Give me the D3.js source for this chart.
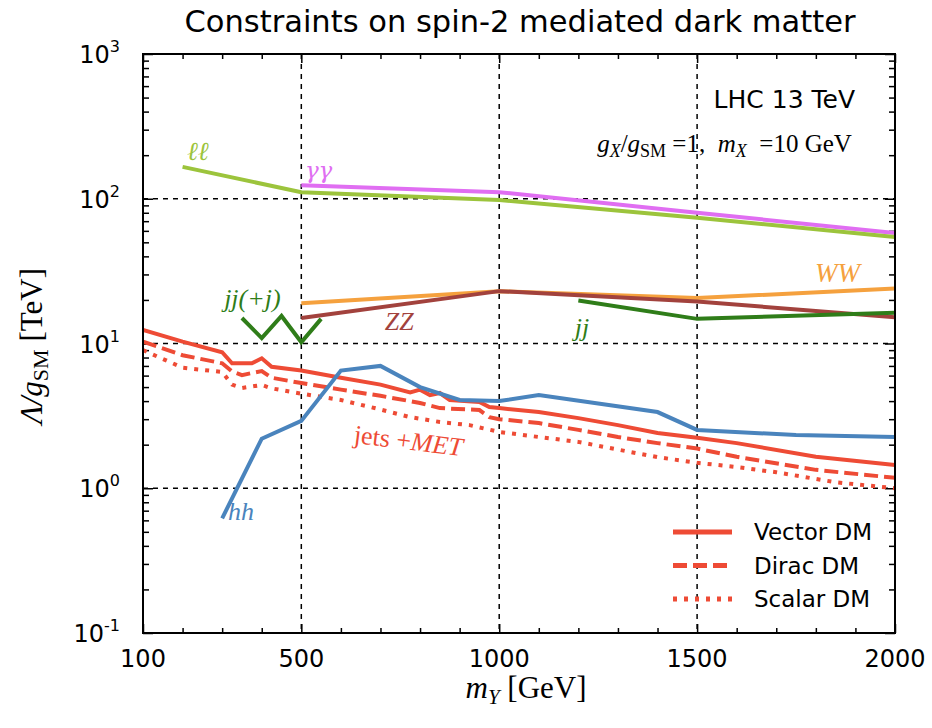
<!DOCTYPE html>
<meta charset="utf-8">
<style>
body { margin: 0; background: #fff; }
svg text { font-family: "DejaVu Sans", sans-serif; fill: #000; }
.tex { font-family: "Liberation Serif", "DejaVu Serif", serif; white-space: pre; }
.grid line { stroke: #000; stroke-width: 1.5; stroke-dasharray: 5,5; }
</style>
<body>
<script src="https://cdn.jsdelivr.net/npm/d3@7"></script>
<script>

// ---- data (mass in GeV, limit in TeV) ----
var massLL = [200, 500, 1000, 1500, 2000];
var limitLL = [166, 111, 98, 74, 54.5];

var massAA = [500, 1000, 1500, 2000];
var limitAA = [124, 111, 80, 58];

var massWW = [500, 1000, 1500, 2000];
var limitWW = [19, 23, 20.6, 24];

var massZZ = [500, 1000, 1500, 2000];
var limitZZ = [15, 23, 19.5, 15.2];

var massJJ = [1200, 1500, 2000];
var limitJJ = [19.8, 14.8, 16.3];

var massJJJ = [350, 400, 450, 500, 550];
var limitJJJ = [15, 10.9, 15.5, 10.2, 14.8];

var massHH = [300, 400, 500, 600, 700, 800, 900, 1000, 1100, 1400, 1500, 1750, 2000];
var limitHH = [0.62, 2.2, 2.92, 6.5, 7.0, 5.0, 4.07, 4.0, 4.4, 3.36, 2.53, 2.33, 2.26];

var massVector = [100, 200, 300, 325, 375, 400, 425, 500, 600, 700, 775, 800, 825, 850, 875, 950, 975, 1000, 1100, 1200, 1300, 1400, 1500, 1600, 1800, 2000];
var limitVector = [12.4, 10.3, 8.7, 7.3, 7.3, 7.9, 6.9, 6.5, 5.8, 5.2, 4.6, 4.8, 4.4, 4.55, 4.07, 3.95, 3.64, 3.58, 3.36, 3.05, 2.73, 2.41, 2.23, 2.05, 1.65, 1.45];

var massDirac = [100, 200, 300, 325, 350, 375, 400, 425, 500, 600, 700, 775, 800, 850, 950, 975, 1000, 1100, 1200, 1300, 1400, 1500, 1600, 1800, 2000];
var limitDirac = [10.3, 8.3, 7.3, 6.4, 6.05, 6.25, 6.45, 5.8, 5.33, 4.8, 4.35, 4.0, 3.88, 3.58, 3.47, 3.1, 3.0, 2.82, 2.53, 2.26, 2.05, 1.88, 1.65, 1.34, 1.18];

var massScalar = [100, 200, 300, 325, 350, 375, 400, 425, 500, 600, 700, 775, 850, 925, 1000, 1100, 1200, 1300, 1400, 1500, 1600, 1700, 1850, 2000];
var limitScalar = [9.0, 6.8, 6.36, 5.2, 4.93, 5.05, 5.17, 4.9, 4.5, 4.07, 3.5, 3.1, 2.87, 2.73, 2.45, 2.26, 2.09, 1.85, 1.64, 1.5, 1.4, 1.29, 1.1, 1.0];

var xTicks = [100, 500, 1000, 1500, 2000];
var yTicks = [0.1, 1, 10, 100, 1000];
var legendNames = ["Vector DM", "Dirac DM", "Scalar DM"];

// ---- layout ----
var width = 932, height = 728;
var plotLeft = 143, plotRight = 895, plotTop = 54, plotBottom = 633;

var red = "#ee4b35";

var x = d3.scaleLinear().domain([100, 2000]).range([plotLeft, plotRight]);
var y = d3.scaleLog().domain([0.1, 1000]).range([plotBottom, plotTop]);

var svg = d3.select("body").append("svg")
    .attr("width", width)
    .attr("height", height);

svg.append("defs").append("clipPath").attr("id", "plot")
  .append("rect")
    .attr("x", plotLeft).attr("y", plotTop)
    .attr("width", plotRight - plotLeft).attr("height", plotBottom - plotTop);

// grid lines at the major ticks
var grid = svg.append("g").attr("class", "grid");
grid.selectAll(".gx")
    .data(xTicks.slice(1, -1))
  .enter().append("line")
    .attr("x1", function(d) { return x(d); })
    .attr("x2", function(d) { return x(d); })
    .attr("y1", plotTop).attr("y2", plotBottom);
grid.selectAll(".gy")
    .data(yTicks.slice(1, -1))
  .enter().append("line")
    .attr("x1", plotLeft).attr("x2", plotRight)
    .attr("y1", function(d) { return y(d); })
    .attr("y2", function(d) { return y(d); });

// minor tick values
var xMinor = d3.range(200, 2000, 100).filter(function(v) { return xTicks.indexOf(v) < 0; });
var yMinor = [];
[0.1, 1, 10, 100].forEach(function(dec) {
  for (var k = 2; k <= 9; k++) yMinor.push(dec * k);
});

function tickAxis(axisFn, scale, values, size, offset) {
  return svg.append("g")
      .attr("transform", offset)
      .call(axisFn(scale).tickValues(values).tickSize(size).tickFormat(""))
      .call(function(g) {
        g.select(".domain").remove();
        g.selectAll(".tick line").attr("stroke", "#000").attr("stroke-width", 1.5);
      });
}

// inward ticks on all four sides
tickAxis(d3.axisBottom, x, xTicks, -9, "translate(0," + plotBottom + ")");
tickAxis(d3.axisBottom, x, xMinor, -5, "translate(0," + plotBottom + ")");
tickAxis(d3.axisTop, x, xTicks, -9, "translate(0," + plotTop + ")");
tickAxis(d3.axisTop, x, xMinor, -5, "translate(0," + plotTop + ")");
tickAxis(d3.axisLeft, y, yTicks, -10, "translate(" + plotLeft + ",0)");
tickAxis(d3.axisLeft, y, yMinor, -6, "translate(" + plotLeft + ",0)");
tickAxis(d3.axisRight, y, yTicks, -10, "translate(" + plotRight + ",0)");
tickAxis(d3.axisRight, y, yMinor, -6, "translate(" + plotRight + ",0)");

// tick labels
svg.selectAll(".xlab")
    .data(xTicks)
  .enter().append("text")
    .attr("x", function(d) { return x(d); })
    .attr("y", 667)
    .attr("text-anchor", "middle")
    .style("font-size", "24px")
    .text(function(d) { return d; });

var ylab = svg.selectAll(".ylab")
    .data(yTicks)
  .enter().append("text")
    .attr("x", 120)
    .attr("y", function(d) { return y(d) + 9; })
    .attr("text-anchor", "end")
    .style("font-size", "24px");
ylab.append("tspan").text("10");
ylab.append("tspan")
    .attr("dy", -11)
    .style("font-size", "16px")
    .text(function(d) { return Math.round(Math.log10(d)); });

// curves
var line = d3.line()
    .x(function(d) { return x(d[0]); })
    .y(function(d) { return y(d[1]); });

function pairs(m, v) { return m.map(function(d, i) { return [d, v[i]]; }); }

var curves = [
  { pts: pairs(massVector, limitVector), color: red, dash: null },
  { pts: pairs(massDirac, limitDirac), color: red, dash: "14,6" },
  { pts: pairs(massScalar, limitScalar), color: red, dash: "4,7" },
  { pts: pairs(massHH, limitHH), color: "#4a84bd", dash: null },
  { pts: pairs(massWW, limitWW), color: "#f5a13e", dash: null },
  { pts: pairs(massZZ, limitZZ), color: "#a2423d", dash: null },
  { pts: pairs(massJJ, limitJJ), color: "#2f7d19", dash: null },
  { pts: pairs(massJJJ, limitJJJ), color: "#2f7d19", dash: null },
  { pts: pairs(massAA, limitAA), color: "#e06ef2", dash: null },
  { pts: pairs(massLL, limitLL), color: "#9cc43c", dash: null }
];

svg.append("g")
    .attr("clip-path", "url(#plot)")
  .selectAll("path")
    .data(curves)
  .enter().append("path")
    .attr("d", function(d) { return line(d.pts); })
    .attr("fill", "none")
    .attr("stroke", function(d) { return d.color; })
    .attr("stroke-width", 4)
    .attr("stroke-dasharray", function(d) { return d.dash; });

// frame
svg.append("rect")
    .attr("x", plotLeft).attr("y", plotTop)
    .attr("width", plotRight - plotLeft).attr("height", plotBottom - plotTop)
    .attr("fill", "none")
    .attr("stroke", "#000")
    .attr("stroke-width", 2);

// curve labels (anchored in data coordinates)
function label(mass, lim, color, size) {
  return svg.append("text")
      .attr("class", "tex")
      .attr("x", x(mass))
      .attr("y", y(lim))
      .style("font-size", size + "px")
      .style("font-style", "italic")
      .style("fill", color);
}

label(211, 185, "#9cc43c", 26).text("\u2113\u2113");
label(509, 139, "#e06ef2", 23)
    .style("font-family", "'DejaVu Serif', serif")
    .text("\u03b3\u03b3");
label(1798, 26.6, "#f5a13e", 27).text("WW");
label(305, 17.9, "#2f7d19", 26).text("jj(+j)");
label(711, 12.4, "#a2423d", 26).text("ZZ");
label(1191, 11.3, "#2f7d19", 26).text("jj");
label(315, 0.60, "#4a84bd", 26).text("hh");

var met = svg.append("text")
    .attr("class", "tex")
    .attr("transform", "translate(" + x(631) + "," + y(2.06) + ") rotate(7)")
    .style("font-size", "26px")
    .style("fill", red);
met.append("tspan").text("jets +");
met.append("tspan").style("font-style", "italic").text("MET");

// top-right notes
svg.append("text")
    .attr("x", x(1899)).attr("y", y(424))
    .attr("text-anchor", "end")
    .style("font-size", "25px")
    .text("LHC 13 TeV");

var note = svg.append("text")
    .attr("class", "tex")
    .attr("x", x(1891)).attr("y", y(210))
    .attr("text-anchor", "end")
    .style("font-size", "25px");
note.append("tspan").style("font-style", "italic").text("g");
note.append("tspan").style("font-style", "italic").style("font-size", "18px").attr("dy", 5).text("X");
note.append("tspan").attr("dy", -5).text("/");
note.append("tspan").style("font-style", "italic").text("g");
note.append("tspan").style("font-size", "18px").attr("dy", 5).text("SM");
note.append("tspan").attr("dy", -5).text(" =1,  ");
note.append("tspan").style("font-style", "italic").text("m");
note.append("tspan").style("font-style", "italic").style("font-size", "18px").attr("dy", 5).text("X");
note.append("tspan").attr("dy", -5).text("  =10 GeV");

// legend
var legendStyles = [null, "14,6", "4,7"];
var legend = svg.selectAll(".legend")
    .data(legendNames)
  .enter().append("g")
    .attr("transform", function(d, i) { return "translate(673," + (532 + i * 33.5) + ")"; });
legend.append("line")
    .attr("x1", 0).attr("x2", 59)
    .attr("stroke", red)
    .attr("stroke-width", 5)
    .attr("stroke-dasharray", function(d, i) { return legendStyles[i]; });
legend.append("text")
    .attr("x", 81).attr("y", 8)
    .style("font-size", "23px")
    .text(function(d) { return d; });

// title and axis labels
svg.append("text")
    .attr("x", 520).attr("y", 32)
    .attr("text-anchor", "middle")
    .style("font-size", "30.5px")
    .text("Constraints on spin-2 mediated dark matter");

var xl = svg.append("text")
    .attr("class", "tex")
    .attr("x", 526).attr("y", 698)
    .attr("text-anchor", "middle")
    .style("font-size", "31px");
xl.append("tspan").style("font-style", "italic").text("m");
xl.append("tspan").style("font-style", "italic").style("font-size", "21px").attr("dy", 6).text("Y");
xl.append("tspan").attr("dy", -6).text(" [GeV]");

var yl = svg.append("text")
    .attr("class", "tex")
    .attr("transform", "translate(42,346) rotate(-90)")
    .attr("text-anchor", "middle")
    .style("font-size", "31px");
yl.append("tspan").style("font-style", "italic").text("\u039b/g");
yl.append("tspan").style("font-size", "22px").attr("dy", 6).text("SM");
yl.append("tspan").attr("dy", -6).text(" [TeV]");

</script>
</body>
